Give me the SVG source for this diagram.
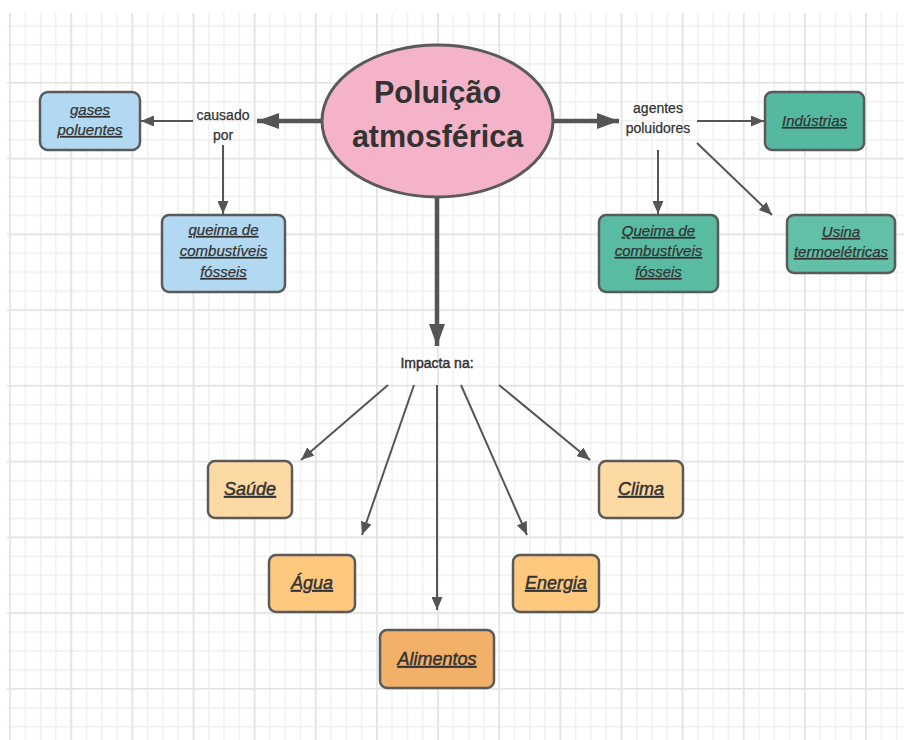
<svg xmlns="http://www.w3.org/2000/svg" width="904" height="740" viewBox="0 0 904 740">
<defs>
<pattern id="minor" patternUnits="userSpaceOnUse" x="9.3" y="6.3" width="15.285" height="18.9375">
<path d="M0.7,0 V18.9375 M0,0.7 H15.285" stroke="#efefef" stroke-width="1.4" fill="none"/>
</pattern>
<pattern id="major" patternUnits="userSpaceOnUse" x="9.2" y="6.2" width="61.14" height="75.75">
<path d="M0.8,0 V75.75 M0,0.8 H61.14" stroke="#e3e3e3" stroke-width="1.6" fill="none"/>
</pattern>
<marker id="ah" markerUnits="userSpaceOnUse" markerWidth="13" markerHeight="11" refX="13" refY="5.5" orient="auto">
<path d="M0,0 L13,5.5 L0,11 z" fill="#555"/>
</marker>
<marker id="ahb" markerUnits="userSpaceOnUse" markerWidth="22" markerHeight="16" refX="22" refY="8" orient="auto">
<path d="M0,0 L22,8 L0,16 z" fill="#555"/>
</marker>
</defs>
<style>
.box{stroke:#5a5a5a;stroke-width:2.5}
.lbl{font-family:"Liberation Sans",Arial,sans-serif;font-size:14px;fill:#333;stroke:#333;stroke-width:0.25;text-anchor:middle}
.bt{font-family:"Liberation Sans",Arial,sans-serif;font-size:15px;font-style:italic;fill:#333;stroke:#333;stroke-width:0.25;text-anchor:middle;text-decoration:underline}
.bt2{font-family:"Liberation Sans",Arial,sans-serif;font-size:18px;font-style:italic;fill:#333;stroke:#333;stroke-width:0.45;text-anchor:middle;text-decoration:underline}
.thin{stroke:#555;stroke-width:2;fill:none;marker-end:url(#ah)}
.thick{stroke:#555;stroke-width:4.5;fill:none;marker-end:url(#ahb)}
</style>
<rect width="904" height="740" fill="#ffffff"/>
<rect x="7" y="13" width="897" height="727" fill="url(#minor)"/>
<rect x="7" y="13" width="897" height="727" fill="url(#major)"/>

<g id="connectors">
<path class="thick" d="M322,121 L257,121"/>
<path class="thick" d="M553,121 L619,121"/>
<path class="thick" d="M437,197 L437,346"/>
<path class="thin" d="M193,121 L141,121"/>
<path class="thin" d="M223,145 L223,214"/>
<path class="thin" d="M697,121 L764,121"/>
<path class="thin" d="M658,150 L658,214"/>
<path class="thin" d="M697,143 L772,215"/>
<path class="thin" d="M388,385 L301,460"/>
<path class="thin" d="M414,385 L362,535"/>
<path class="thin" d="M437,385 L437,610"/>
<path class="thin" d="M461,385 L527,535"/>
<path class="thin" d="M499,385 L590,460"/>
</g>

<g id="center">
<ellipse cx="437.5" cy="121" rx="115.5" ry="76" fill="#f4b3c8" stroke="#5a5a5a" stroke-width="3"/>
<text x="437.5" y="103" font-family="'Liberation Sans',Arial,sans-serif" font-size="30.5" font-weight="bold" fill="#333" text-anchor="middle">Poluição</text>
<text x="437.5" y="147" font-family="'Liberation Sans',Arial,sans-serif" font-size="30.5" font-weight="bold" fill="#333" text-anchor="middle">atmosférica</text>
</g>

<g id="causado">
<text class="lbl" x="223" y="120">causado</text>
<text class="lbl" x="223" y="140">por</text>
</g>
<g id="agentes">
<text class="lbl" x="658" y="113">agentes</text>
<text class="lbl" x="658" y="133">poluidores</text>
</g>
<g id="impacta">
<text class="lbl" x="437" y="368" style="stroke-width:0.45">Impacta na:</text>
</g>

<g id="gases">
<rect class="box" x="40" y="92" width="100" height="58" rx="8" fill="#b3d8f1"/>
<text class="bt" x="90" y="115">gases</text>
<text class="bt" x="90" y="135">poluentes</text>
</g>
<g id="queima-blue">
<rect class="box" x="162" y="215" width="123" height="77" rx="7" fill="#b3d8f1"/>
<text class="bt" x="223.5" y="235">queima de</text>
<text class="bt" x="223.5" y="256">combustíveis</text>
<text class="bt" x="223.5" y="277">fósseis</text>
</g>
<g id="industrias">
<rect class="box" x="765" y="92" width="99" height="58" rx="7" fill="#55b9a1"/>
<text class="bt" x="814.5" y="126">Indústrias</text>
</g>
<g id="queima-teal">
<rect class="box" x="599" y="215" width="119" height="77" rx="7" fill="#5abba3"/>
<text class="bt" x="658.5" y="236">Queima de</text>
<text class="bt" x="658.5" y="256">combustíveis</text>
<text class="bt" x="658.5" y="277">fósseis</text>
</g>
<g id="usina">
<rect class="box" x="787" y="215" width="108" height="58" rx="7" fill="#62bfa8"/>
<text class="bt" x="841" y="237">Usina</text>
<text class="bt" x="841" y="257">termoelétricas</text>
</g>

<g id="saude">
<rect class="box" x="208" y="461" width="84" height="57" rx="7" fill="#fdd9a4"/>
<text class="bt2" x="250" y="495">Saúde</text>
</g>
<g id="clima">
<rect class="box" x="599" y="461" width="84" height="57" rx="7" fill="#fdd9a4"/>
<text class="bt2" x="641" y="495">Clima</text>
</g>
<g id="agua">
<rect class="box" x="269" y="555" width="86" height="57" rx="7" fill="#fec97f"/>
<text class="bt2" x="312" y="589">Água</text>
</g>
<g id="energia">
<rect class="box" x="513" y="555" width="86" height="57" rx="7" fill="#fec97f"/>
<text class="bt2" x="556" y="589">Energia</text>
</g>
<g id="alimentos">
<rect class="box" x="380" y="630" width="114" height="58" rx="7" fill="#f2b068"/>
<text class="bt2" x="437" y="665">Alimentos</text>
</g>
</svg>
